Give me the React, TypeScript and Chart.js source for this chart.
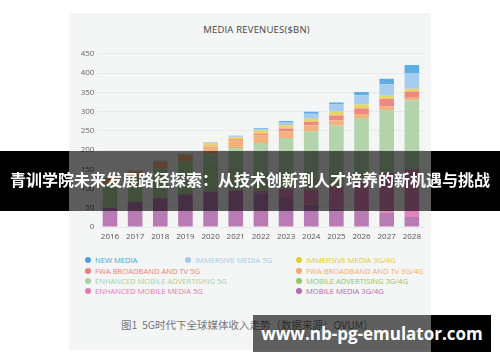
import React, { useEffect, useRef } from "react";
import { Chart, registerables } from "chart.js";

Chart.register(...registerables);

const years = ["2016","2017","2018","2019","2020","2021","2022","2023","2024","2025","2026","2027","2028"];

const mobileMedia34 = [50, 66, 75, 85, 92, 94, 88, 78, 58, 48, 42, 37, 26];
const enhancedMobileMedia5G = [0, 0, 0, 0, 1, 3, 7, 22, 40, 56, 73, 103, 124];
const mobileAdvertising34 = [60, 60, 77, 86, 70, 60, 50, 40, 30, 25, 20, 15, 10];
const enhancedMobileAdvertising5G = [0, 0, 0, 0, 26, 48, 73, 91, 121, 135, 148.5, 149, 169];
const fwa34 = [17, 20, 19, 17, 20, 21, 20, 17, 15, 13, 10, 9, 7];
const fwa5G = [0, 0, 0, 0, 2, 2, 4.5, 8, 9.5, 12.5, 14.5, 20, 16];
const immersive34 = [0.5, 0.5, 0.5, 1, 7, 5, 8, 8.5, 7.5, 10, 10.5, 8, 7];
const immersive5G = [0, 0, 0, 0.5, 1.5, 3, 5, 8, 13, 19, 23.5, 30, 41];
const newMedia = [0.3, 0.5, 0.5, 1, 0.5, 1, 1.5, 3, 5.5, 5, 8.5, 14, 21];

const yTicks = [0, 50, 100, 150, 200, 250, 300, 350, 400, 450];

const chartTitle = "MEDIA REVENUES($BN)";
const bannerText = "青训学院未来发展路径探索：从技术创新到人才培养的新机遇与挑战";
const captionText = "图1  5G时代下全球媒体收入走势（数据来源：OVUM）";
const footerText = "www.nb-pg-emulator.com";

const seriesNames = [
  "MOBILE MEDIA 3G/4G",
  "ENHANCED MOBILE MEDIA 5G",
  "MOBILE ADVERTISING 3G/4G",
  "ENHANCED MOBILE ADVERTISING 5G",
  "FWA BROADBAND AND TV 3G/4G",
  "FWA BROADBAND AND TV 5G",
  "IMMERSIVE  MEDIA 3G/4G",
  "IMMERSIVE  MEDIA 5G",
  "NEW MEDIA",
];
const seriesValues = [
  mobileMedia34,
  enhancedMobileMedia5G,
  mobileAdvertising34,
  enhancedMobileAdvertising5G,
  fwa34,
  fwa5G,
  immersive34,
  immersive5G,
  newMedia,
];
const barColors = ["#b87bb4", "#e285ba", "#abd09b", "#b3d3aa", "#f3b17d", "#ef8880", "#e9d564", "#a6ccee", "#5eaee3"];
const legendColors = ["#b06aad", "#e07ab2", "#8dc66f", "#acd1a0", "#f3ab72", "#ee7d74", "#e3cc33", "#a3c9ee", "#4a9fe0"];

// legend grid: [series index, column x, row y]
const legendLayout: [number, number, number][] = [
  [8, 88, 260], [7, 188, 260], [6, 299, 260],
  [5, 88, 270.5], [4, 299, 270.5],
  [3, 88, 281], [2, 299, 281],
  [1, 88, 291], [0, 299, 291],
];

export default function App() {
  const ref = useRef<HTMLCanvasElement | null>(null);

  useEffect(() => {
    if (!ref.current) return;
    const chart = new Chart(ref.current, {
      type: "bar",
      data: {
        labels: years,
        datasets: seriesValues.map((vals, i) => ({
          label: seriesNames[i],
          data: vals,
          backgroundColor: barColors[i],
          borderWidth: 0,
          barPercentage: 0.58,
          categoryPercentage: 1,
        })),
      },
      options: {
        responsive: false,
        animation: false,
        layout: { padding: { top: 6, right: 0, left: 0, bottom: 0 } },
        plugins: { legend: { display: false }, tooltip: { enabled: false }, title: { display: false } },
        scales: {
          x: {
            stacked: true,
            grid: { display: false, drawTicks: false },
            border: { display: false },
            ticks: { color: "#555", font: { size: 8, family: "Open Sans" }, padding: 5, maxRotation: 0 },
            afterFit: (s: any) => { s.height = 19; },
          },
          y: {
            stacked: true,
            min: 0,
            max: 450,
            afterBuildTicks: (s: any) => { s.ticks = yTicks.map((v) => ({ value: v })); },
            grid: { color: "#e8eaea", drawTicks: false },
            border: { display: false },
            ticks: { color: "#666", font: { size: 8, family: "Open Sans" }, padding: 3 },
            afterFit: (s: any) => { s.width = 37.4; },
          },
        },
      },
    });
    return () => chart.destroy();
  }, []);

  return (
    <div style={{ position: "fixed", left: 0, top: 0, width: 500, height: 362, background: "#fff", overflow: "hidden" }}>
      <div style={{ position: "absolute", left: 69, top: 13, width: 362, height: 337, background: "#f4f5f5" }} />
      <div style={{ position: "absolute", left: 69, top: 23, width: 375, textAlign: "center", fontFamily: "Open Sans", fontSize: 9.5, color: "#444", lineHeight: "14px", letterSpacing: 0.2 }}>
        {chartTitle}
      </div>
      <canvas ref={ref} width={366} height={200} style={{ position: "absolute", left: 60, top: 46, width: 366, height: 200 }} />
      {legendLayout.map(([si, x, y]) => (
        <div key={si} style={{ position: "absolute", left: x - 3, top: y - 6, height: 12, display: "flex", alignItems: "center", whiteSpace: "nowrap" }}>
          <span style={{ display: "inline-block", width: 6, height: 6, borderRadius: 3, background: legendColors[si], marginRight: 4 }} />
          <span style={{ fontFamily: "Open Sans", fontSize: 7.6, color: legendColors[si], lineHeight: "12px" }}>{seriesNames[si]}</span>
        </div>
      ))}
      <div style={{ position: "absolute", left: 121, top: 318, fontFamily: "'Noto Sans CJK SC'", fontSize: 10.5, color: "#777", whiteSpace: "pre", lineHeight: "14px" }}>
        {captionText}
      </div>
      {/* banner */}
      <div style={{ position: "absolute", left: 0, top: 151, width: 69, height: 60, background: "#000" }} />
      <div style={{ position: "absolute", left: 69, top: 151, width: 362, height: 60, background: "rgba(0,0,0,0.62)" }} />
      <div style={{ position: "absolute", left: 431, top: 151, width: 69, height: 60, background: "#000" }} />
      <div style={{ position: "absolute", left: 0, top: 151, width: 500, height: 60, display: "flex", alignItems: "center", justifyContent: "center", color: "#fff", fontFamily: "'Noto Sans CJK SC'", fontWeight: 700, fontSize: 16, whiteSpace: "nowrap", paddingBottom: 4, boxSizing: "border-box" }}>
        {bannerText}
      </div>
      {/* footer */}
      <div style={{ position: "absolute", left: 253, top: 315, width: 178, height: 37, background: "rgba(0,0,0,0.61)" }} />
      <div style={{ position: "absolute", left: 431, top: 315, width: 60, height: 37, background: "#000" }} />
      <div style={{ position: "absolute", left: 253, top: 315, width: 238, height: 37, display: "flex", alignItems: "center", justifyContent: "center", color: "#fff", fontFamily: "'Open Sans'", fontWeight: 700, fontSize: 17, whiteSpace: "nowrap" }}>
        {footerText}
      </div>
    </div>
  );
}
